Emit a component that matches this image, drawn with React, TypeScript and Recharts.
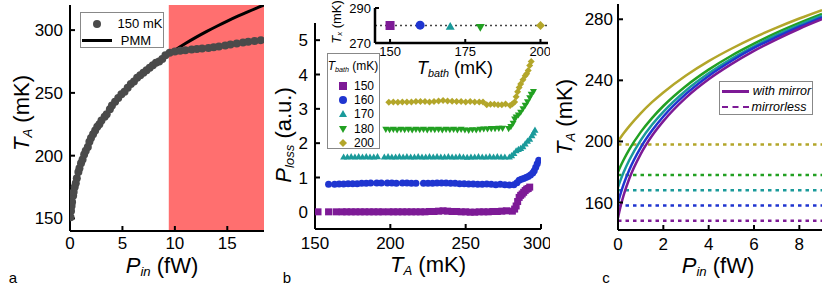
import React from "react";
import { ComposedChart, XAxis, YAxis, Scatter, Line, ReferenceArea, ReferenceLine } from "recharts";

const FONT = "'Liberation Sans', Arial, Helvetica, sans-serif";
const PURPLE = "#7d1a96";
const BLUE = "#1f35d0";
const TEAL = "#1a9a9a";
const GREEN = "#22a022";
const OLIVE = "#b3a62a";
const GREY = "#4a4a4a";
const RED = "#ff6f6f";

// ---- panel a: T_A vs P_in at 150 mK bath
const aTicksX = [0, 5, 10, 15];
const aTicksY = [150, 200, 250, 300];
const redStart = 9.42;
const pmmP = [0, 0.1, 0.25, 0.5, 1, 1.5, 2, 3, 4, 5, 6, 7, 8, 9, 10, 11, 12, 13, 14, 15, 16, 17, 18, 18.5];
const pmmT = [150, 156.4, 164.4, 175.1, 190.8, 202.7, 212.2, 227.4, 239.3, 249.3, 257.8, 265.4, 272.2, 278.3, 284.0, 289.3, 294.2, 298.8, 303.1, 307.2, 311.1, 314.8, 318.3, 320];
const measP = [0.05, 0.1, 0.15, 0.2, 0.3, 0.35, 0.45, 0.55, 0.65, 0.8, 0.9, 1.05, 1.2, 1.35, 1.5, 1.7, 1.85, 2.0, 2.2, 2.4, 2.6, 2.8, 3.0, 3.3, 3.5, 3.8, 4.0, 4.3, 4.6, 4.9, 5.2, 5.5, 5.8, 6.1, 6.4, 6.7, 7.0, 7.3, 7.6, 7.9, 8.2, 8.5, 8.8, 9.1, 9.5, 10.0, 10.5, 11.0, 11.6, 12.1, 12.6, 13.2, 13.7, 14.2, 14.8, 15.3, 15.9, 16.5, 17.0, 17.6, 18.2];
const measT = [151, 156, 160, 163, 168, 171, 175, 178, 182, 187, 190, 194, 197, 201, 204, 207, 211, 214, 217, 220, 223, 225, 228, 231, 233, 237, 240, 243, 246, 249, 251, 254, 257, 259, 262, 264, 266, 268, 270, 272, 274, 275, 277, 280, 282, 283, 283.5, 284, 284.5, 285, 285.3, 285.8, 286.3, 287, 287.7, 288.5, 289.3, 290.2, 290.8, 291.3, 291.9];

// ---- panel b: P_loss vs T_A, [T_A, P_loss]
const bTicksX = [150, 200, 250, 300];
const bTicksY = [0, 1, 2, 3, 4, 5];
const loss150 = [[152,0],[159,0],[164,0],[168,0],[171,0],[174,0],[177,0],[180,0],[183,0],[186,0],[189,0],[192,0],[195,0],[199,0],[202,0],[205,0],[208,0],[211,0],[214,0],[217,0],[220,0],[223,0],[226,0.01],[229,0.01],[232,0.02],[235,0.03],[238,0.02],[241,0.01],[244,0.01],[247,0],[250,0],[253,-0.01],[256,-0.01],[259,0],[262,0],[265,0],[268,0.01],[271,0.01],[274,0.02],[277,0.03],[281,0.02],[282.5,0.08],[283.5,0.17],[284.5,0.3],[285.5,0.42],[286.5,0.48],[287.5,0.52],[288.5,0.57],[289.5,0.62],[290.5,0.66],[291.5,0.68],[292.5,0.72]];
const loss160 = [[159,0.8],[163,0.8],[166,0.81],[169,0.81],[172,0.82],[175,0.82],[178,0.82],[181,0.83],[184,0.83],[187,0.84],[191,0.84],[194,0.84],[198,0.84],[201,0.84],[204,0.83],[208,0.84],[211,0.84],[214,0.83],[217,0.83],[222,0.83],[225,0.83],[228,0.83],[231,0.84],[234,0.84],[237,0.84],[240,0.83],[243,0.83],[246,0.82],[249,0.82],[252,0.81],[255,0.81],[258,0.8],[261,0.8],[264,0.81],[267,0.8],[270,0.79],[273,0.8],[276,0.79],[279,0.78],[282,0.79],[284,0.85],[285.5,0.92],[287,0.95],[288.5,0.97],[290,1.0],[291.5,1.03],[293,1.07],[294.5,1.13],[295.5,1.2],[296.5,1.3],[297.5,1.4],[298.5,1.5]];
const loss170 = [[169,1.6],[171.5,1.6],[174,1.61],[176.5,1.6],[179,1.61],[181.5,1.6],[184,1.61],[186.5,1.6],[189,1.6],[191.5,1.61],[196,1.6],[198.5,1.61],[201,1.6],[203.5,1.6],[206,1.61],[208.5,1.6],[211,1.61],[213.5,1.6],[216,1.6],[218.5,1.61],[221,1.6],[223.5,1.6],[226,1.61],[228.5,1.6],[231,1.61],[233.5,1.6],[236,1.6],[238.5,1.61],[241,1.6],[243.5,1.6],[246,1.61],[248.5,1.6],[251,1.59],[253.5,1.6],[256,1.6],[258.5,1.61],[261,1.6],[263.5,1.6],[266,1.61],[268.5,1.6],[271,1.61],[273.5,1.6],[276,1.6],[279,1.6],[280.5,1.64],[282,1.7],[283.5,1.78],[285,1.82],[286.5,1.85],[288,1.9],[289.5,1.98],[291,2.06],[292.5,2.12],[294,2.22],[295,2.3],[296,2.38]];
const loss180 = [[197,2.4],[199.5,2.39],[202,2.4],[204.5,2.38],[207,2.4],[209.5,2.39],[212,2.4],[214.5,2.38],[217,2.4],[219.5,2.39],[222,2.4],[224.5,2.38],[227,2.4],[229.5,2.39],[232,2.4],[234.5,2.38],[237,2.4],[239.5,2.39],[242,2.4],[244.5,2.38],[247,2.4],[249.5,2.38],[252,2.37],[254.5,2.39],[257,2.38],[259.5,2.4],[262,2.41],[264.5,2.41],[267,2.42],[269.5,2.42],[272,2.43],[274.5,2.43],[278.5,2.42],[280,2.48],[281.5,2.58],[282.5,2.7],[283.5,2.76],[285,2.82],[286.5,2.9],[288,3.0],[289.5,3.1],[291,3.2],[292.5,3.32],[293.5,3.42],[295,3.5]];
const loss200 = [[199,3.19],[202,3.2],[205,3.19],[208,3.2],[211,3.2],[214,3.2],[217,3.21],[220,3.21],[223,3.21],[226,3.2],[229,3.21],[232,3.23],[235,3.24],[238,3.23],[241,3.22],[244,3.21],[247,3.21],[250,3.2],[253,3.21],[256,3.2],[259,3.2],[261.5,3.2],[264,3.12],[266.5,3.13],[269,3.13],[271.5,3.12],[274,3.12],[276.5,3.14],[279.5,3.1],[281,3.14],[282.5,3.2],[283.5,3.35],[284.5,3.5],[285.5,3.62],[286.5,3.72],[288,3.85],[289.5,3.96],[290.5,4.02],[291.5,4.12],[292.5,4.26],[293.5,4.38]];

// inset: crossover temperature vs bath temperature
const bathT = [150, 160, 170, 180, 200];
const crossT = [280, 280.2, 279.5, 279, 280];
const insetTicksX = [150, 175, 200];
const insetTicksY = [270, 280, 290];

// ---- panel c: model T_A vs P_in with / without mirror
const cTicksX = [0, 2, 4, 6, 8];
const cTicksY = [160, 200, 240, 280];
const cP = [0, 0.1, 0.25, 0.5, 1, 1.5, 2, 3, 4, 5, 6, 7, 8, 9];
const mirror150 = [150, 156.6, 164.8, 175.7, 191.7, 203.7, 213.3, 228.7, 240.7, 250.6, 259.3, 266.9, 273.8, 280];
const mirror160 = [160, 165.2, 172.1, 181.5, 196.0, 207.1, 216.3, 231.1, 242.9, 252.7, 261.2, 268.4, 275.1, 281.3];
const mirror170 = [170, 174.2, 179.8, 187.8, 200.7, 210.9, 219.4, 233.4, 244.6, 254.1, 262.3, 269.7, 276.3, 282.3];
const mirror180 = [180, 183.4, 188.0, 194.8, 206.1, 215.3, 223.2, 236.3, 247.0, 256.1, 264.0, 271.2, 277.6, 283.5];
const mirror200 = [200, 202.2, 205.3, 210.0, 218.4, 225.7, 232.1, 243.2, 252.6, 260.7, 268.0, 274.5, 280.5, 286];
const mirrorless = [148, 158, 168, 178, 198];

const seriesColors = [PURPLE, BLUE, TEAL, GREEN, OLIVE];
const seriesShapes = ["square", "circle", "up", "down", "diamond"];

const pmmRows = pmmP.map((x, i) => ({ x, y: pmmT[i] }));
const measRows = measP.map((x, i) => ({ x, y: measT[i] }));
const toRows = (a: number[][]) => a.map(([x, y]) => ({ x, y }));
const lossSets = [loss150, loss160, loss170, loss180, loss200].map(toRows);
const insetRows = bathT.map((x, i) => ({ x, y: crossT[i] }));
const cRows = cP.map((x, i) => ({
  x, m150: mirror150[i], m160: mirror160[i], m170: mirror170[i], m180: mirror180[i], m200: mirror200[i],
}));

function marker(kind: string, color: string, size = 7) {
  return (props: any) => {
    const { cx, cy } = props;
    if (cx == null || cy == null) return <g />;
    const r = size / 2;
    if (kind === "square") return <rect x={cx - r} y={cy - r} width={size} height={size} fill={color} />;
    if (kind === "up") return <polygon points={`${cx},${cy - r} ${cx + r},${cy + r * 0.75} ${cx - r},${cy + r * 0.75}`} fill={color} />;
    if (kind === "down") return <polygon points={`${cx},${cy + r} ${cx + r},${cy - r * 0.75} ${cx - r},${cy - r * 0.75}`} fill={color} />;
    if (kind === "diamond") return <polygon points={`${cx},${cy - r} ${cx + r},${cy} ${cx},${cy + r} ${cx - r},${cy}`} fill={color} />;
    return <circle cx={cx} cy={cy} r={r} fill={color} />;
  };
}

const ax = { stroke: "#000", strokeWidth: 2 };
const tk = (size: number) => ({ fill: "#000", fontSize: size, fontFamily: FONT });

function Txt({ x, y, size, rot, italic, children }: any) {
  return (
    <div
      style={{
        position: "absolute", left: x, top: y, whiteSpace: "nowrap", lineHeight: 1,
        transform: `translate(-50%,-50%)${rot ? " rotate(-90deg)" : ""}`,
        fontSize: size, fontFamily: FONT, fontStyle: italic ? "italic" : "normal", color: "#000",
      }}
    >
      {children}
    </div>
  );
}

const Sub = ({ children }: any) => <sub style={{ fontSize: "0.6em", verticalAlign: "-0.25em", lineHeight: 0 }}>{children}</sub>;

export default function App() {
  return (
    <div style={{ position: "relative", width: 830, height: 285, background: "#fff", overflow: "hidden" }}>
      <style>{"body{margin:0}"}</style>

      {/* a */}
      <div style={{ position: "absolute", left: 0, top: 0 }}>
        <ComposedChart width={270} height={260} margin={{ top: 5, right: 6, bottom: 0, left: 0 }}>
          <XAxis dataKey="x" type="number" domain={[0, 18.5]} ticks={aTicksX} allowDataOverflow height={29}
            tickSize={-5} tickMargin={11} axisLine={ax} tickLine={ax} tick={tk(17)} />
          <XAxis xAxisId="top" orientation="top" type="number" domain={[0, 18.5]} ticks={aTicksX} height={0}
            tickSize={-5} axisLine={ax} tickLine={ax} tick={false} />
          <YAxis dataKey="y" type="number" domain={[140, 320]} ticks={aTicksY} allowDataOverflow width={70}
            tickSize={-5} tickMargin={12} axisLine={ax} tickLine={ax} tick={tk(17)} />
          <YAxis yAxisId="right" orientation="right" type="number" domain={[140, 320]} ticks={aTicksY} width={0}
            tickSize={-5} axisLine={ax} tickLine={ax} tick={false} />
          <ReferenceArea x1={redStart} x2={18.5} y1={140} y2={320} fill={RED} fillOpacity={1} stroke="none" />
          <Scatter data={measRows} shape={marker("circle", GREY, 8)} isAnimationActive={false} />
          <Line data={pmmRows} dataKey="y" type="monotone" stroke="#000" strokeWidth={3} dot={false} isAnimationActive={false} />
        </ComposedChart>
      </div>

      {/* b */}
      <div style={{ position: "absolute", left: 270, top: 0 }}>
        <ComposedChart width={280} height={260} margin={{ top: 23, right: 9, bottom: 0, left: 0 }}>
          <XAxis dataKey="x" type="number" domain={[150, 300]} ticks={bTicksX} allowDataOverflow height={31}
            tickSize={-5} tickMargin={13} axisLine={ax} tickLine={ax} tick={tk(17)} />
          <XAxis xAxisId="top" orientation="top" type="number" domain={[150, 300]} ticks={bTicksX} height={0}
            tickSize={-5} axisLine={ax} tickLine={ax} tick={false} />
          <YAxis dataKey="y" type="number" domain={[-0.5, 5.5]} ticks={bTicksY} allowDataOverflow width={45}
            tickSize={-5} tickMargin={12} axisLine={ax} tickLine={ax} tick={tk(17)} />
          <YAxis yAxisId="right" orientation="right" type="number" domain={[-0.5, 5.5]} ticks={bTicksY} width={0}
            tickSize={-5} axisLine={ax} tickLine={ax} tick={false} />
          {lossSets.map((d, i) => (
            <Scatter key={i} data={d} shape={marker(seriesShapes[i], seriesColors[i], 7)} isAnimationActive={false} />
          ))}
        </ComposedChart>
      </div>

      {/* b inset */}
      <div style={{ position: "absolute", left: 325, top: 0, width: 225, height: 58, background: "#fff" }} />
      <div style={{ position: "absolute", left: 325, top: 0 }}>
        <ComposedChart width={225} height={64} margin={{ top: 8, right: 2, bottom: 0, left: 0 }}>
          <XAxis dataKey="x" type="number" domain={[145, 202.5]} ticks={insetTicksX} allowDataOverflow height={21}
            tickSize={-4} tickMargin={8} axisLine={{ stroke: "#000", strokeWidth: 2.5 }} tickLine={ax} tick={tk(13)} />
          <XAxis xAxisId="top" orientation="top" type="number" domain={[145, 202.5]} ticks={insetTicksX} height={0}
            tickSize={-4} axisLine={{ stroke: "#000", strokeWidth: 2.5 }} tickLine={ax} tick={false} />
          <YAxis dataKey="y" type="number" domain={[270, 290]} ticks={insetTicksY} allowDataOverflow width={50}
            tickSize={-4} tickMargin={8} axisLine={{ stroke: "#000", strokeWidth: 2.5 }} tickLine={ax} tick={tk(13)} />
          <YAxis yAxisId="right" orientation="right" type="number" domain={[270, 290]} ticks={insetTicksY} width={0}
            tickSize={-4} axisLine={{ stroke: "#000", strokeWidth: 2.5 }} tickLine={ax} tick={false} />
          <ReferenceLine y={280} stroke="#444" strokeWidth={1.3} strokeDasharray="2 3" />
          {insetRows.map((r, i) => (
            <Scatter key={i} data={[r]} shape={marker(seriesShapes[i], seriesColors[i], 9)} isAnimationActive={false} />
          ))}
        </ComposedChart>
      </div>

      {/* c */}
      <div style={{ position: "absolute", left: 550, top: 0 }}>
        <ComposedChart width={280} height={260} data={cRows} margin={{ top: 4, right: 8, bottom: 0, left: 0 }}>
          <XAxis dataKey="x" type="number" domain={[0, 9]} ticks={cTicksX} allowDataOverflow height={30}
            tickSize={-5} tickMargin={13} axisLine={ax} tickLine={ax} tick={tk(17)} />
          <XAxis xAxisId="top" orientation="top" type="number" domain={[0, 9]} ticks={cTicksX} height={0}
            tickSize={-5} axisLine={ax} tickLine={ax} tick={false} />
          <YAxis type="number" domain={[142, 290]} ticks={cTicksY} allowDataOverflow width={68}
            tickSize={-5} tickMargin={10} axisLine={ax} tickLine={ax} tick={tk(17)} />
          <YAxis yAxisId="right" orientation="right" type="number" domain={[142, 290]} ticks={cTicksY} width={0}
            tickSize={-5} axisLine={ax} tickLine={ax} tick={false} />
          {mirrorless.map((v, i) => (
            <ReferenceLine key={i} y={v} stroke={seriesColors[i]} strokeWidth={2.5} strokeDasharray="3.5 4" />
          ))}
          <Line dataKey="m200" type="monotone" stroke={OLIVE} strokeWidth={2.5} dot={false} isAnimationActive={false} />
          <Line dataKey="m180" type="monotone" stroke={GREEN} strokeWidth={2.5} dot={false} isAnimationActive={false} />
          <Line dataKey="m170" type="monotone" stroke={TEAL} strokeWidth={2.5} dot={false} isAnimationActive={false} />
          <Line dataKey="m160" type="monotone" stroke={BLUE} strokeWidth={2.5} dot={false} isAnimationActive={false} />
          <Line dataKey="m150" type="monotone" stroke={PURPLE} strokeWidth={2.5} dot={false} isAnimationActive={false} />
        </ComposedChart>
      </div>

      {/* legends */}
      <div style={{ position: "absolute", left: 80, top: 12, width: 84, height: 36, border: "1px solid #888", background: "#fff", boxSizing: "border-box" }} />
      <div style={{ position: "absolute", left: 93, top: 20, width: 8, height: 8, borderRadius: 4, background: GREY }} />
      <Txt x={140} y={23} size={13}>150 mK</Txt>
      <div style={{ position: "absolute", left: 82, top: 39, width: 30, height: 3, background: "#000" }} />
      <Txt x={136} y={40} size={13}>PMM</Txt>

      <div style={{ position: "absolute", left: 327, top: 53, width: 53, height: 96, border: "1px solid #888", background: "#fff", boxSizing: "border-box" }} />
      <Txt x={353} y={66} size={12}><i>T</i><Sub><i>bath</i></Sub> (mK)</Txt>
      {bathT.map((b, i) => (
        <React.Fragment key={b}>
          <svg style={{ position: "absolute", left: 337, top: 80 + i * 14.2 }} width={12} height={12}>
            {marker(seriesShapes[i], seriesColors[i], 8)({ cx: 6, cy: 6 })}
          </svg>
          <Txt x={364} y={86 + i * 14.2} size={12}>{b}</Txt>
        </React.Fragment>
      ))}

      <div style={{ position: "absolute", left: 719, top: 81, width: 94, height: 34, border: "1px solid #888", background: "#fff", boxSizing: "border-box" }} />
      <div style={{ position: "absolute", left: 722, top: 90, width: 27, height: 2.5, background: PURPLE }} />
      <Txt x={782} y={91} size={12.5} italic>with mirror</Txt>
      <div style={{ position: "absolute", left: 722, top: 106, width: 27, height: 2.5, borderTop: `2.5px dashed ${PURPLE}`, boxSizing: "border-box" }} />
      <Txt x={779} y={107} size={12.5} italic>mirrorless</Txt>

      {/* axis titles */}
      <Txt x={22} y={113} size={22} rot><i>T</i><Sub><i>A</i></Sub> (mK)</Txt>
      <Txt x={162} y={266} size={22}><i>P</i><Sub><i>in</i></Sub> (fW)</Txt>
      <Txt x={284} y={135} size={22} rot><i>P</i><Sub><i>loss</i></Sub> (a.u.)</Txt>
      <Txt x={428} y={265} size={22}><i>T</i><Sub><i>A</i></Sub> (mK)</Txt>
      <Txt x={565} y={117} size={22} rot><i>T</i><Sub><i>A</i></Sub> (mK)</Txt>
      <Txt x={718} y={266} size={22}><i>P</i><Sub><i>in</i></Sub> (fW)</Txt>
      <Txt x={455} y={68} size={18}><i>T</i><Sub><i>bath</i></Sub> (mK)</Txt>
      <Txt x={336} y={22} size={13} rot><i>T</i><Sub><i>x</i></Sub> (mK)</Txt>

      <Txt x={13} y={277} size={15}>a</Txt>
      <Txt x={287} y={277} size={15}>b</Txt>
      <Txt x={606} y={277} size={15}>c</Txt>
    </div>
  );
}
